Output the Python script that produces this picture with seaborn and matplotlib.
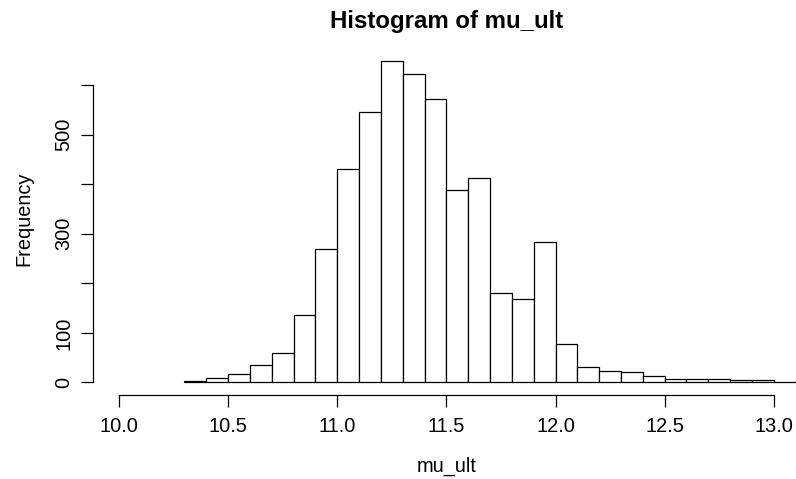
import numpy as np
import pandas as pd
import matplotlib
matplotlib.use("Agg")
import matplotlib.pyplot as plt
import seaborn as sns

# ---- data ----
bin_lefts = [10.3, 10.4, 10.5, 10.6, 10.7, 10.8, 10.9, 11.0, 11.1, 11.2,
             11.3, 11.4, 11.5, 11.6, 11.7, 11.8, 11.9, 12.0, 12.1, 12.2,
             12.3, 12.4, 12.5, 12.6, 12.7, 12.8, 12.9, 13.0, 13.1]
counts = [3, 8, 16, 36, 60, 136, 270, 431, 546, 649,
          623, 572, 388, 412, 180, 169, 283, 77, 32, 24,
          21, 13, 7, 7, 7, 5, 5, 0, 5]
bin_width = 0.1
x_ticks = [10.0, 10.5, 11.0, 11.5, 12.0, 12.5, 13.0]
x_tick_labels = ["10.0", "10.5", "11.0", "11.5", "12.0", "12.5", "13.0"]
y_ticks = [0, 100, 200, 300, 400, 500, 600]
y_tick_labels = ["0", "100", "", "300", "", "500", ""]
title = "Histogram of mu_ult"
x_label = "mu_ult"
y_label = "Frequency"

df = pd.DataFrame({"mu_ult": np.round(np.array(bin_lefts) + bin_width / 2, 3),
                   "count": counts})
edges = list(np.round(list(bin_lefts) + [bin_lefts[-1] + bin_width], 3))

sns.set_theme(style="white")
plt.rcParams['font.family'] = ['Liberation Sans', 'DejaVu Sans']
plt.rcParams['text.color'] = 'black'

W, H = 796, 479
fig = plt.figure(figsize=(W / 100, H / 100), dpi=100)
left_px, right_px, bottom_px, top_px = 92.8, 800.0, 395.3, 47.8
ax = fig.add_axes([left_px / W, 1 - bottom_px / H,
                   (right_px - left_px) / W, (bottom_px - top_px) / H])

sns.histplot(data=df, x="mu_ult", weights="count", bins=edges, stat="count",
             color="white", edgecolor="black", linewidth=0.9, alpha=1,
             ax=ax)

ymax = max(counts)
ax.set_xlim(10.0 - 0.04 * 3, 13.0 + 0.04 * 3)
ax.set_ylim(-0.04 * ymax, ymax * 1.04)
ax.set_xlabel("")
ax.set_ylabel("")

for s in ["top", "right"]:
    ax.spines[s].set_visible(False)
for s in ["left", "bottom"]:
    ax.spines[s].set_color("black")
    ax.spines[s].set_linewidth(0.9)
ax.spines["bottom"].set_bounds(10.0, 13.0)
ax.spines["left"].set_bounds(0, 600)

ax.set_xticks(x_ticks)
ax.set_xticklabels(x_tick_labels)
ax.set_yticks(y_ticks)
ax.set_yticklabels(y_tick_labels, rotation=90, va="center")
ax.tick_params(axis="both", direction="out", length=8.6, width=0.9,
               labelsize=14.4, colors="black", bottom=True, left=True)
ax.tick_params(axis="x", pad=7)
ax.tick_params(axis="y", pad=5.5)
ax.grid(False)

cx = (left_px + right_px) / 2 / W
fig.text(cx, 1 - 28.3 / H, title, ha="center", va="baseline",
         fontsize=17.28, fontweight="bold", color="black")
fig.text(cx, 1 - 472 / H, x_label, ha="center", va="baseline",
         fontsize=14.4, color="black")
fig.text(24 / W, 1 - 219 / H, y_label, ha="center", va="center",
         rotation=90, fontsize=14.4, color="black")

fig.savefig("out.png", dpi=100, facecolor="white")
